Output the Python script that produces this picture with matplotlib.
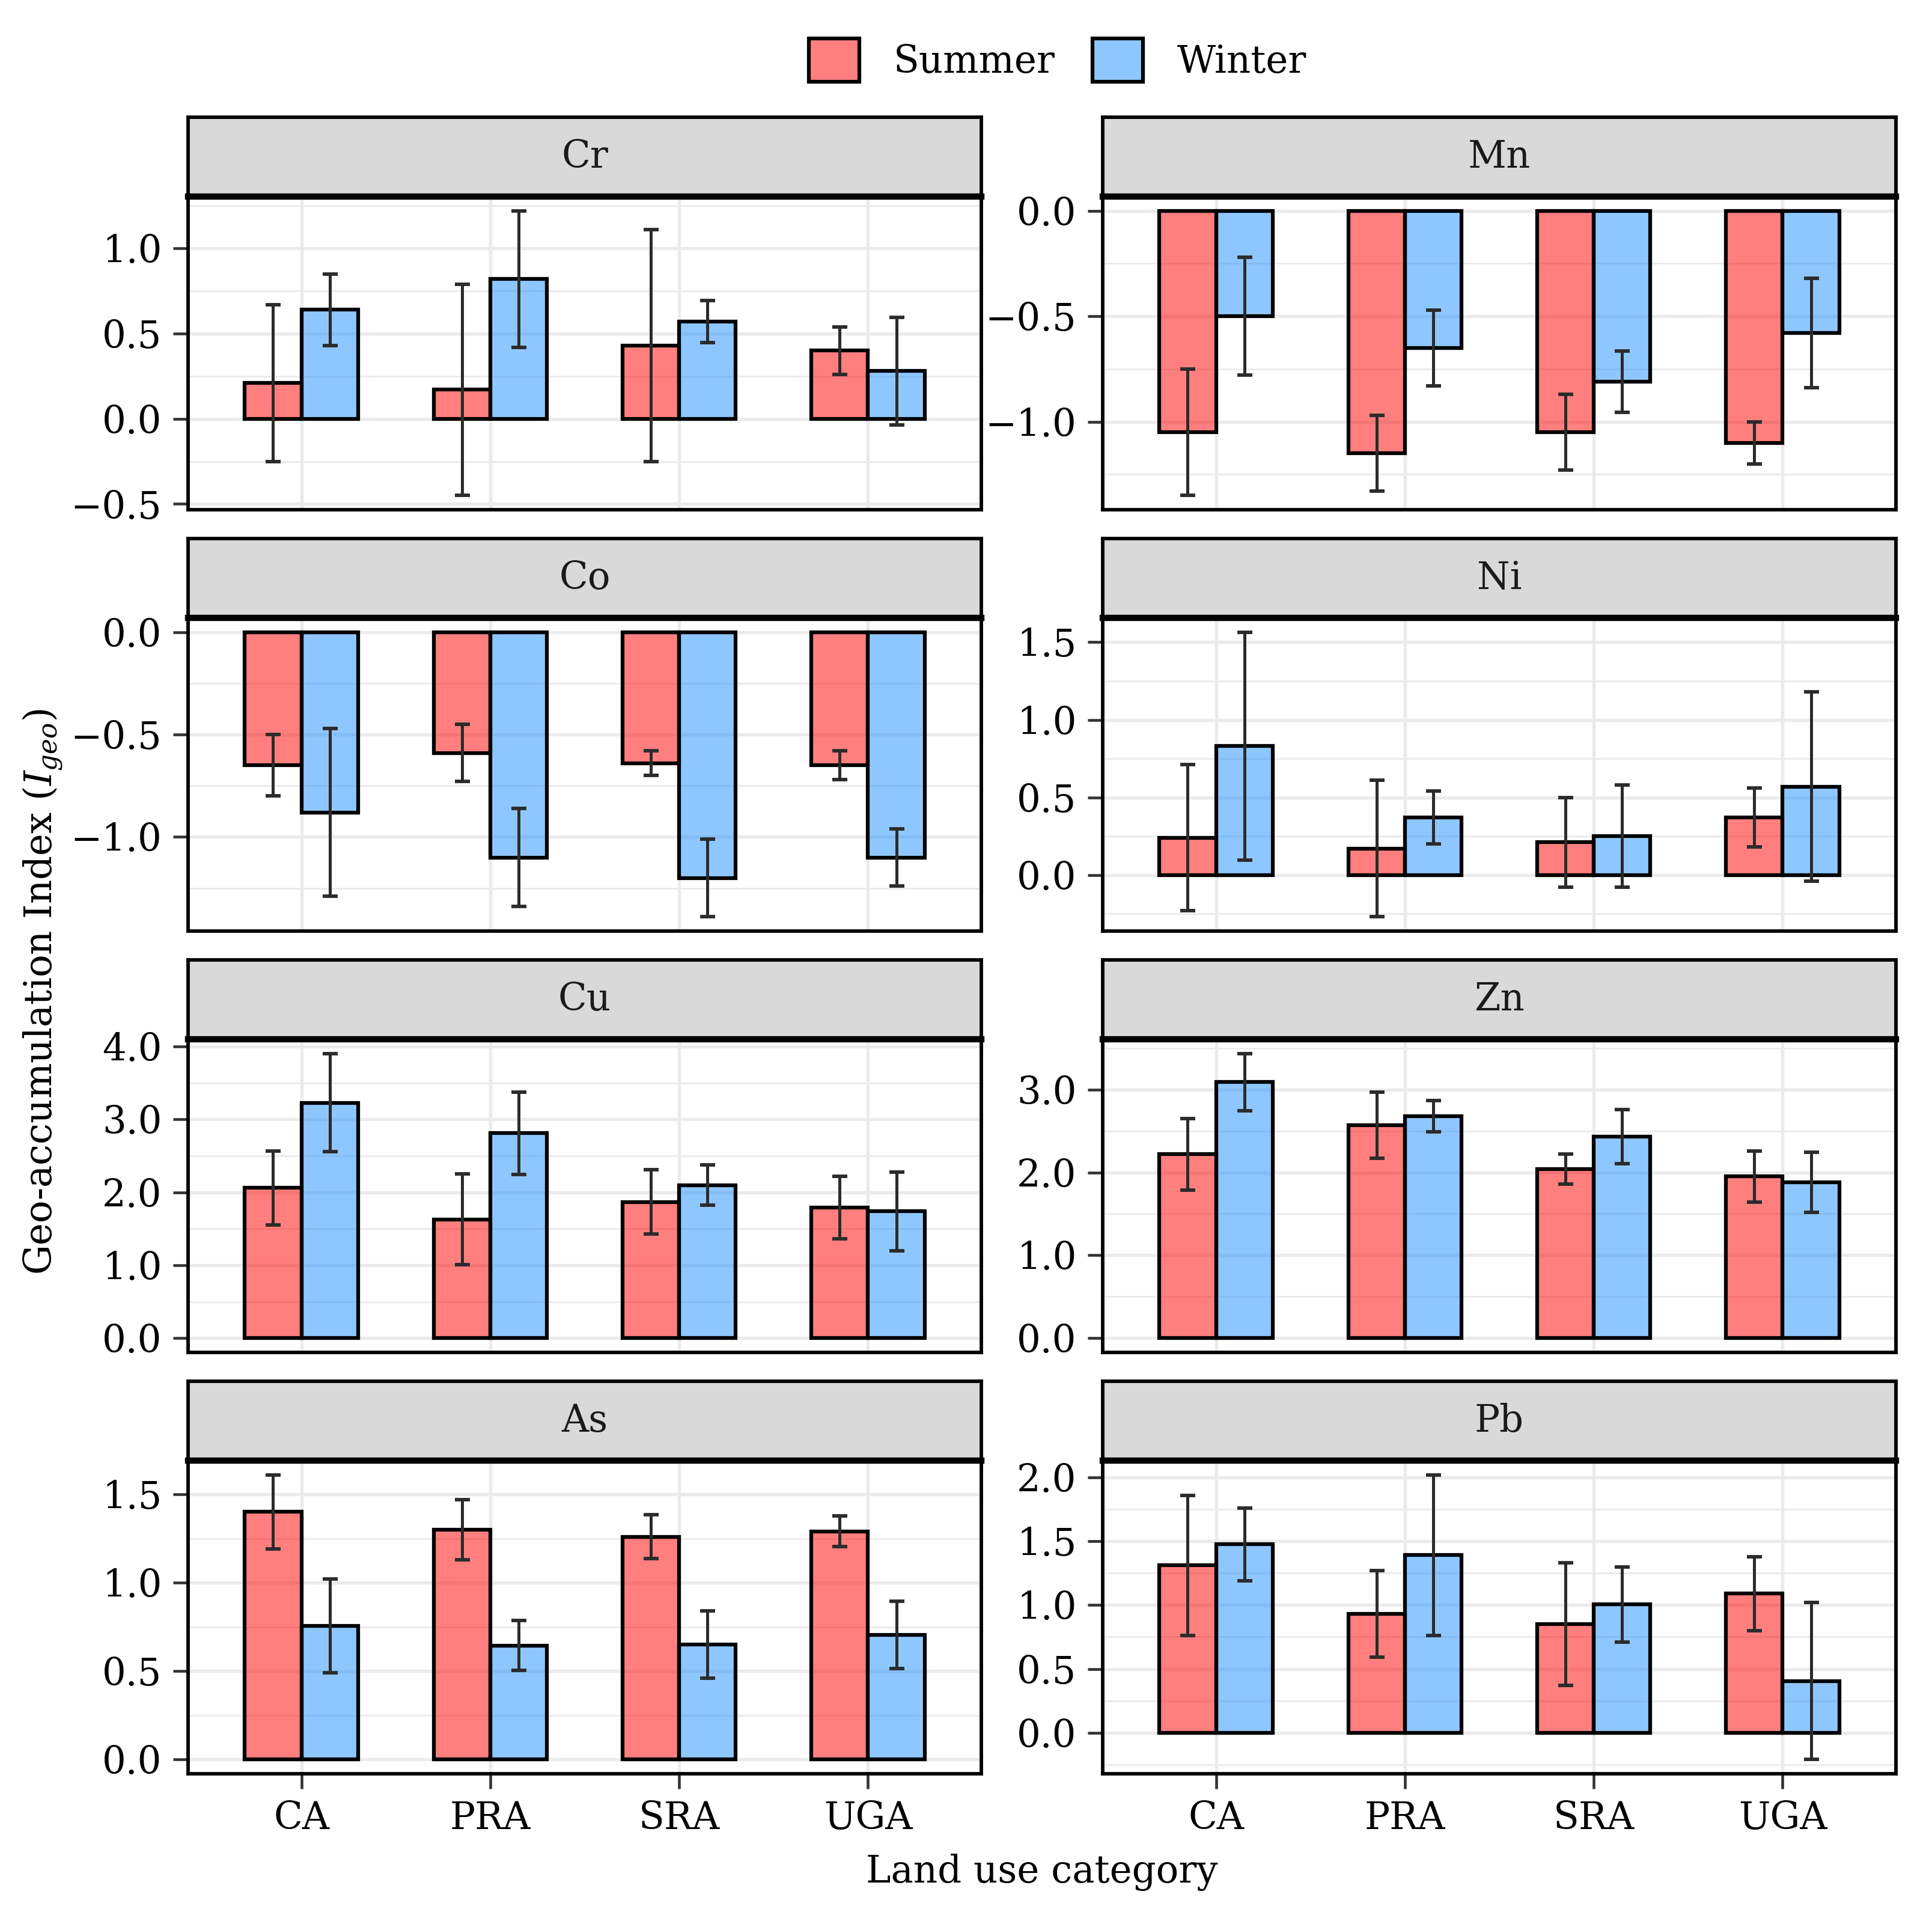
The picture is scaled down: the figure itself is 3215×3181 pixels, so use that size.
import numpy as np
import matplotlib
matplotlib.use("Agg")
import matplotlib.pyplot as plt
from matplotlib.patches import Patch
from matplotlib.ticker import MultipleLocator, AutoMinorLocator, FuncFormatter

# data (mean and half-length of error bar)
elements = ["Cr", "Mn", "Co", "Ni", "Cu", "Zn", "As", "Pb"]
categories = ["CA", "PRA", "SRA", "UGA"]
seasons = ["Summer", "Winter"]

summer_mean = [
    [0.21, 0.17, 0.43, 0.40],      # Cr
    [-1.05, -1.15, -1.05, -1.10],  # Mn
    [-0.65, -0.59, -0.64, -0.65],  # Co
    [0.24, 0.17, 0.21, 0.37],      # Ni
    [2.06, 1.63, 1.87, 1.79],      # Cu
    [2.22, 2.57, 2.04, 1.95],      # Zn
    [1.40, 1.30, 1.26, 1.29],      # As
    [1.31, 0.93, 0.85, 1.09],      # Pb
]
summer_sd = [
    [0.46, 0.62, 0.68, 0.14],
    [0.30, 0.18, 0.18, 0.10],
    [0.15, 0.14, 0.06, 0.07],
    [0.47, 0.44, 0.29, 0.19],
    [0.51, 0.62, 0.44, 0.43],
    [0.43, 0.40, 0.18, 0.31],
    [0.21, 0.17, 0.125, 0.087],
    [0.55, 0.34, 0.48, 0.29],
]
winter_mean = [
    [0.64, 0.82, 0.57, 0.28],
    [-0.50, -0.65, -0.81, -0.58],
    [-0.88, -1.10, -1.20, -1.10],
    [0.83, 0.37, 0.25, 0.57],
    [3.23, 2.81, 2.10, 1.74],
    [3.09, 2.68, 2.43, 1.88],
    [0.755, 0.645, 0.65, 0.705],
    [1.475, 1.39, 1.005, 0.405],
]
winter_sd = [
    [0.21, 0.40, 0.125, 0.315],
    [0.28, 0.18, 0.145, 0.26],
    [0.41, 0.24, 0.19, 0.14],
    [0.735, 0.17, 0.33, 0.61],
    [0.675, 0.565, 0.275, 0.54],
    [0.345, 0.19, 0.325, 0.36],
    [0.265, 0.14, 0.19, 0.19],
    [0.285, 0.63, 0.295, 0.615],
]
tick_step = [0.5, 0.5, 0.5, 0.5, 1.0, 1.0, 0.5, 0.5]

summer_col = (1.0, 0.0, 0.0, 0.5)
winter_col = (0.118, 0.565, 1.0, 0.5)

plt.rcParams["font.family"] = "DejaVu Serif"
plt.rcParams["mathtext.fontset"] = "dejavuserif"
FS = 15

W, H = 3215, 3181
fig = plt.figure(figsize=(W / 300, H / 300), dpi=300)

# layout in pixels of the reference
col_left = [313, 1835]
panel_w = 1320
panel_top = [327, 1028, 1729, 2430]
panel_h = 521
strip_h = 132

fmt = FuncFormatter(lambda v, p: ("%.1f" % (0.0 if abs(v) < 1e-9 else v)).replace("-", "\u2212"))
x = np.arange(1, len(categories) + 1)

for i, el in enumerate(elements):
    r, c = divmod(i, 2)
    x0 = col_left[c] / W
    y0 = 1 - (panel_top[r] + panel_h) / H
    ax = fig.add_axes([x0, y0, panel_w / W, panel_h / H])
    sax = fig.add_axes([x0, 1 - panel_top[r] / H, panel_w / W, strip_h / H])

    sm, ss = np.array(summer_mean[i]), np.array(summer_sd[i])
    wm, ws = np.array(winter_mean[i]), np.array(winter_sd[i])

    ax.bar(x - 0.15, sm, width=0.3, color=summer_col, edgecolor="black", linewidth=1.5, zorder=2)
    ax.bar(x + 0.15, wm, width=0.3, color=winter_col, edgecolor="black", linewidth=1.5, zorder=2)
    ax.errorbar(x - 0.15, sm, yerr=ss, fmt="none", ecolor="#2b2b2b", elinewidth=1.2,
                capsize=3, capthick=1.4, zorder=3)
    ax.errorbar(x + 0.15, wm, yerr=ws, fmt="none", ecolor="#2b2b2b", elinewidth=1.2,
                capsize=3, capthick=1.4, zorder=3)

    lo = min(0, (sm - ss).min(), (wm - ws).min())
    hi = max(0, (sm + ss).max(), (wm + ws).max())
    pad = 0.05 * (hi - lo)
    ax.set_ylim(lo - pad, hi + pad)
    ax.set_xlim(0.4, 4.6)

    ax.yaxis.set_major_locator(MultipleLocator(tick_step[i]))
    ax.yaxis.set_minor_locator(AutoMinorLocator(2))
    ax.yaxis.set_major_formatter(fmt)
    ax.set_xticks(x)
    ax.set_xticklabels(categories)

    ax.set_axisbelow(True)
    ax.grid(which="major", color="#EBEBEB", linewidth=1.3)
    ax.grid(which="minor", axis="y", color="#EBEBEB", linewidth=0.7)
    ax.tick_params(axis="y", which="major", length=6, width=1.1, color="#333333",
                   labelsize=FS, pad=4.5, labelcolor="black")
    ax.tick_params(axis="y", which="minor", length=0)
    if r == 3:
        ax.tick_params(axis="x", length=6, width=1.1, color="#333333",
                       labelsize=FS, pad=4.5, labelcolor="black")
    else:
        ax.tick_params(axis="x", length=0, labelbottom=False)
    for s in ax.spines.values():
        s.set_linewidth(1.4)
        s.set_color("black")

    sax.set_facecolor("#D9D9D9")
    sax.set_xticks([])
    sax.set_yticks([])
    for s in sax.spines.values():
        s.set_linewidth(1.4)
    sax.spines["bottom"].set_linewidth(2.5)
    sax.text(0.5, 0.5, el, ha="center", va="center", fontsize=FS, color="#1A1A1A",
             transform=sax.transAxes)

handles = [Patch(facecolor=summer_col, edgecolor="black", linewidth=1.5, label=seasons[0]),
           Patch(facecolor=winter_col, edgecolor="black", linewidth=1.5, label=seasons[1])]
fig.legend(handles=handles, loc="center", bbox_to_anchor=(1760 / W, 1 - 100 / H), ncol=2,
           frameon=False, fontsize=FS, handlelength=1.35, handleheight=1.4,
           handletextpad=0.9, columnspacing=1.0)

fig.text(1734 / W, 1 - 3115 / H, "Land use category", ha="center", va="center", fontsize=FS)
fig.text(72 / W, 1 - 1650 / H, "Geo-accumulation Index ($I_{geo}$)", ha="center", va="center",
         rotation=90, fontsize=FS)

fig.savefig("out.png", dpi=300)
